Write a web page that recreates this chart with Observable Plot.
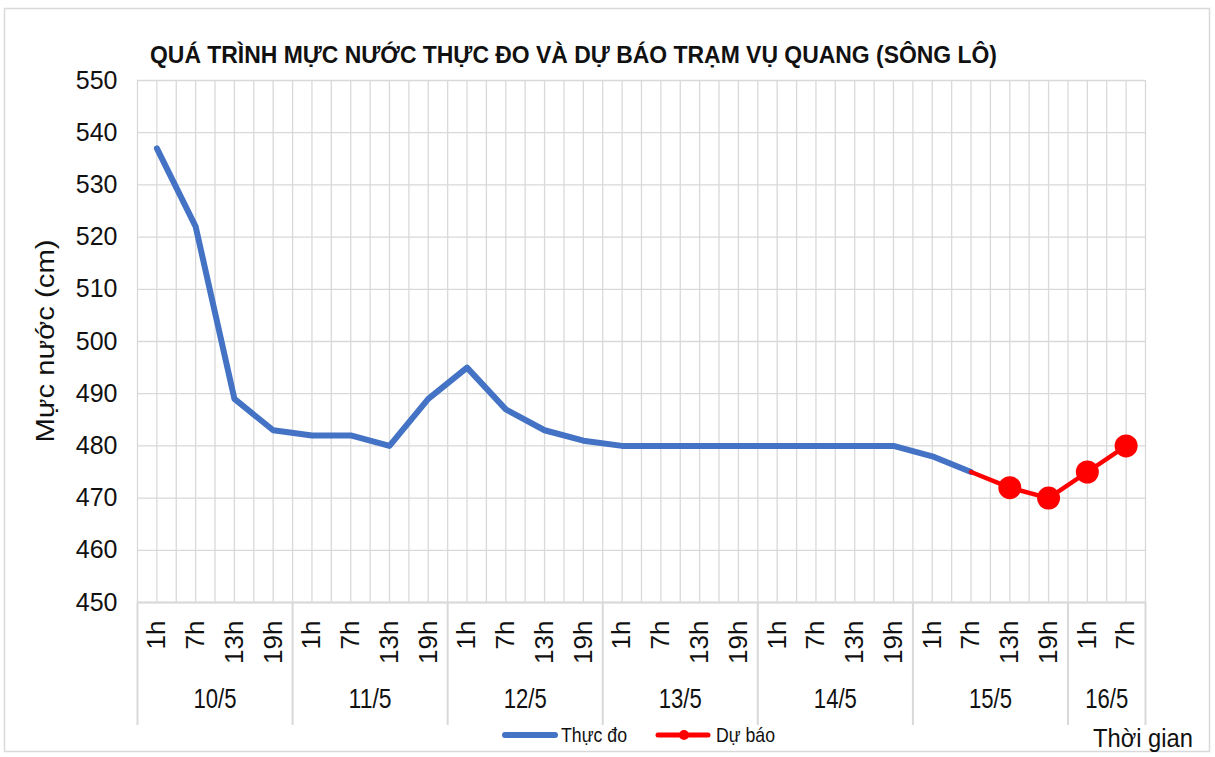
<!DOCTYPE html>
<html>
<head>
<meta charset="utf-8">
<script src="https://cdn.jsdelivr.net/npm/d3@7"></script>
<script src="https://cdn.jsdelivr.net/npm/@observablehq/plot@0.6"></script>
<style>
  body { margin: 0; background: #fff; }
  #chart { position: relative; width: 1215px; height: 757px; }
</style>
</head>
<body>
<div id="chart"></div>
<script>
// ---- data ----
const titleText = "QUÁ TRÌNH MỰC NƯỚC THỰC ĐO VÀ DỰ BÁO TRẠM VỤ QUANG (SÔNG LÔ)";
const yLabel = "Mực nước (cm)";
const xLabel = "Thời gian";
const seriesNames = ["Thực đo", "Dự báo"];
const dayLabels = ["10/5", "11/5", "12/5", "13/5", "14/5", "15/5", "16/5"];
const pointsPerDay = [4, 4, 4, 4, 4, 4, 2];
const timeLabels = [
  "1h", "7h", "13h", "19h",
  "1h", "7h", "13h", "19h",
  "1h", "7h", "13h", "19h",
  "1h", "7h", "13h", "19h",
  "1h", "7h", "13h", "19h",
  "1h", "7h", "13h", "19h",
  "1h", "7h"
];
const observed = [
  537, 522, 489, 483,
  482, 482, 480, 489,
  495, 487, 483, 481,
  480, 480, 480, 480,
  480, 480, 480, 480,
  478, 475, null, null,
  null, null
];
const forecast = [
  null, null, null, null,
  null, null, null, null,
  null, null, null, null,
  null, null, null, null,
  null, null, null, null,
  null, 475, 472, 470,
  475, 480
];
const yTicks = [450, 460, 470, 480, 490, 500, 510, 520, 530, 540, 550];

// ---- derived tables ----
const rows = timeLabels.map((t, i) => ({ i, t, obs: observed[i], fc: forecast[i] }));
let acc = 0;
const groups = dayLabels.map((day, k) => {
  const start = acc;
  const end = acc + pointsPerDay[k] - 1;
  acc += pointsPerDay[k];
  return { day, start, end, mid: (start + end) / 2 };
});
const boundaries = [groups[0].start - 0.5, ...groups.map(g => g.end + 0.5)];
const halfTicks = d3.range(-0.5, rows.length - 0.5 + 0.01, 0.5);

const BLUE = "#4472C4";
const RED = "#FF0000";
const GRID = "#d9d9d9";
const FONT = "'Liberation Sans Narrow', 'Liberation Sans', Arial, sans-serif";

const W = 1215, H = 757;
const mT = 80, mB = 155, mL = 137, mR = 70;

const svg = Plot.plot({
  width: W,
  height: H,
  marginTop: mT,
  marginBottom: mB,
  marginLeft: mL,
  marginRight: mR,
  style: { fontFamily: FONT, color: "#111", background: "#fff" },
  x: { type: "linear", domain: [-0.5, rows.length - 0.5] },
  y: { domain: [450, 550] },
  marks: [
    Plot.gridY({ ticks: yTicks, stroke: GRID, strokeOpacity: 1, strokeWidth: 1.3 }),
    Plot.gridX({ ticks: halfTicks, stroke: GRID, strokeOpacity: 1, strokeWidth: 1.3 }),
    Plot.ruleY([450], { stroke: GRID, strokeWidth: 2 }),
    Plot.ruleX(boundaries, { stroke: GRID, strokeWidth: 2, insetTop: H - mT - mB, insetBottom: -123 }),
    Plot.axisY({ ticks: yTicks, tickSize: 0, tickPadding: 20, fontSize: 25, label: null, fill: "#111" }),
    Plot.axisX({
      ticks: rows.map(d => d.i),
      tickFormat: i => timeLabels[i],
      tickRotate: -90,
      tickSize: 0,
      tickPadding: 18,
      fontSize: 26,
      label: null,
      fill: "#111"
    }),
    Plot.text(groups, { x: "mid", text: "day", frameAnchor: "bottom", dy: 105, fontSize: 27, fill: "#111" }),
    Plot.lineY(rows, { x: "i", y: "obs", stroke: BLUE, strokeWidth: 6, strokeLinecap: "round", strokeLinejoin: "round" }),
    Plot.lineY(rows, { x: "i", y: "fc", stroke: RED, strokeWidth: 4.5, strokeLinejoin: "round" }),
    Plot.dot(rows.filter(d => d.fc != null && d.obs == null), { x: "i", y: "fc", r: 11.5, fill: RED, stroke: "none" })
  ]
});

const s = d3.select(svg);

// narrow the day labels to the reference width
s.selectAll("text")
  .filter(function () { return dayLabels.includes(this.textContent); })
  .attr("textLength", 43).attr("lengthAdjust", "spacingAndGlyphs");

// outer chart border
s.insert("rect", ":first-child")
  .attr("x", 4.5).attr("y", 8.5).attr("width", 1205).attr("height", 743)
  .attr("fill", "none").attr("stroke", GRID).attr("stroke-width", 1.5);

const txt = (x, y, len, size, str, opts = {}) => {
  const t = s.append("text")
    .attr("x", x).attr("y", y)
    .attr("text-anchor", opts.anchor || "start")
    .attr("textLength", len).attr("lengthAdjust", "spacingAndGlyphs")
    .attr("font-size", size).attr("fill", "#111")
    .text(str);
  if (opts.bold) t.attr("font-weight", "bold");
  if (opts.transform) t.attr("transform", opts.transform);
  return t;
};

// title
txt(150, 63, 847, 24, titleText, { bold: true });

// y label
txt(0, 0, 203, 25, yLabel, { anchor: "middle", transform: "translate(54,341) rotate(-90)" });

// legend
s.append("line").attr("x1", 505).attr("x2", 555).attr("y1", 735).attr("y2", 735)
  .attr("stroke", BLUE).attr("stroke-width", 6).attr("stroke-linecap", "round");
txt(561, 742, 66, 21, seriesNames[0]);
s.append("line").attr("x1", 658).attr("x2", 708).attr("y1", 735).attr("y2", 735)
  .attr("stroke", RED).attr("stroke-width", 5).attr("stroke-linecap", "round");
s.append("circle").attr("cx", 684).attr("cy", 735).attr("r", 5).attr("fill", RED);
txt(716, 742, 59, 21, seriesNames[1]);

// x label
txt(1093, 747, 100, 26, xLabel);

document.getElementById("chart").appendChild(svg);
</script>
</body>
</html>
